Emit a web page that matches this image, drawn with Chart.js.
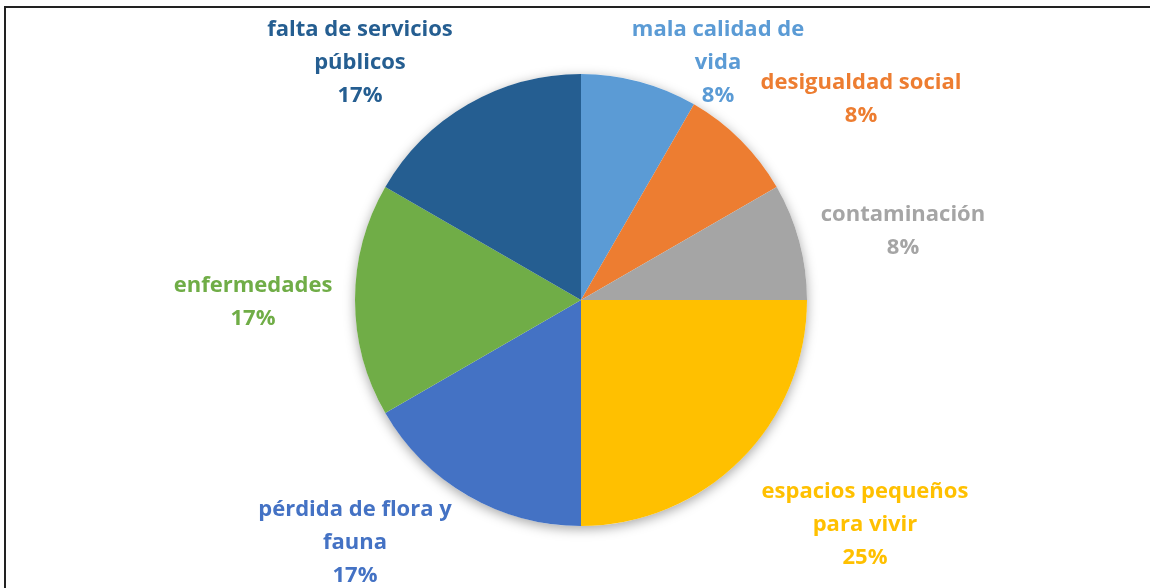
<!DOCTYPE html>
<html>
<head>
<meta charset="utf-8">
<script src="https://cdn.jsdelivr.net/npm/chart.js@4/dist/chart.umd.min.js"></script>
<style>
    html, body { margin: 0; padding: 0; background: #fff; }
    #wrap {
        position: relative;
        width: 1150px;
        height: 588px;
        overflow: hidden;
    }
    #frame {
        position: absolute;
        left: 4px;
        top: 6px;
        right: -10px;
        bottom: -10px;
        border-top: 2px solid #222;
        border-left: 2px solid #222;
    }
    canvas { position: absolute; left: 0; top: 0; }
</style>
</head>
<body>
<div id="wrap">
    <div id="frame"></div>
    <canvas id="pie-chart" width="1150" height="588"></canvas>
</div>
<script>
// Categories and counts, clockwise from 12 o'clock
const categories = [
    'mala calidad de|vida',
    'desigualdad social',
    'contaminación',
    'espacios pequeños|para vivir',
    'pérdida de flora y|fauna',
    'enfermedades',
    'falta de servicios|públicos'
];
const counts = [1, 1, 1, 3, 2, 2, 2];
const sliceColors = ['#5B9BD5', '#ED7D31', '#A5A5A5', '#FFC000', '#4472C4', '#70AD47', '#255E91'];

// Label anchor (centre of first line) relative to pie centre
const labelOffsets = [
    [137, -270], [280, -217], [322, -85], [284, 192],
    [-226, 210], [-328, -14], [-221, -270]
];

const pieShadow = {
    id: 'pieShadow',
    beforeDatasetsDraw(chart) {
        const arc = chart.getDatasetMeta(0).data[0];
        if (!arc) return;
        const ctx = chart.ctx;
        ctx.save();
        ctx.shadowColor = 'rgba(0,0,0,0.35)';
        ctx.shadowBlur = 12;
        ctx.shadowOffsetY = 3;
        ctx.fillStyle = '#fff';
        ctx.beginPath();
        ctx.arc(arc.x, arc.y, arc.outerRadius, 0, Math.PI * 2);
        ctx.fill();
        ctx.restore();
    }
};

const sliceLabels = {
    id: 'sliceLabels',
    afterDatasetsDraw(chart) {
        const ctx = chart.ctx;
        const meta = chart.getDatasetMeta(0);
        const total = counts.reduce((a, b) => a + b, 0);
        ctx.save();
        ctx.font = 'bold 22px "Open Sans"';
        ctx.textAlign = 'center';
        ctx.textBaseline = 'middle';
        meta.data.forEach((arc, i) => {
            const lines = categories[i].split('|');
            lines.push(Math.round(counts[i] / total * 100) + '%');
            ctx.fillStyle = sliceColors[i];
            const x = arc.x + labelOffsets[i][0];
            let y = arc.y + labelOffsets[i][1];
            lines.forEach(line => {
                ctx.fillText(line, x, y);
                y += 33;
            });
        });
        ctx.restore();
    }
};

new Chart(document.getElementById('pie-chart'), {
    type: 'pie',
    data: {
        labels: categories.map(c => c.replace('|', ' ')),
        datasets: [{
            data: counts,
            backgroundColor: sliceColors,
            borderWidth: 0
        }]
    },
    options: {
        responsive: false,
        animation: false,
        layout: { padding: { left: 355, right: 343, top: 74, bottom: 62 } },
        plugins: {
            legend: { display: false },
            tooltip: { enabled: false }
        }
    },
    plugins: [pieShadow, sliceLabels]
});
</script>
</body>
</html>
